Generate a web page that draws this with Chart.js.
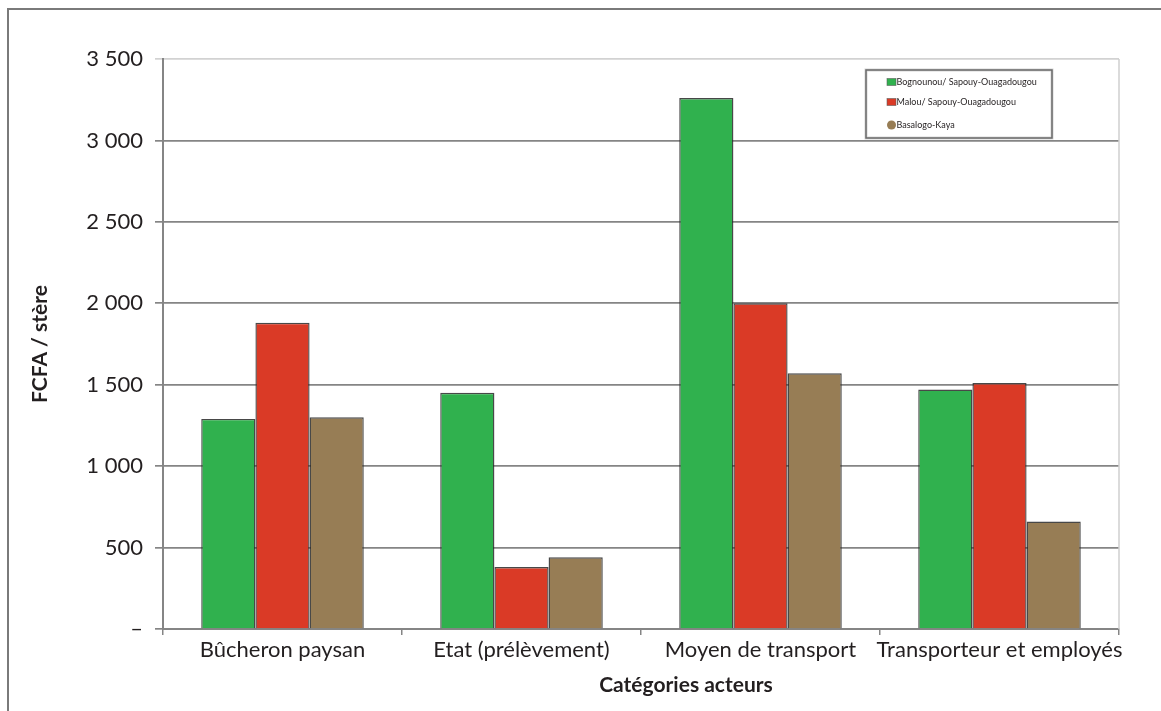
<!DOCTYPE html>
<html lang="fr">
<head>
<meta charset="utf-8">
<title>FCFA / stère par catégorie d'acteurs</title>
<script src="https://cdn.jsdelivr.net/npm/chart.js@4.4.1/dist/chart.umd.min.js"></script>
<style>
  html, body { margin: 0; padding: 0; background: #ffffff; }
  #wrap { width: 1161px; height: 711px; position: relative; }
  canvas { display: block; }
</style>
</head>
<body>
<div id="wrap"><canvas id="chart" width="1161" height="711"></canvas></div>
<script>
// Catégories d'acteurs (axe des abscisses)
const categories = ['Bûcheron paysan', 'Etat (prélèvement)', 'Moyen de transport', 'Transporteur et employés'];

// Montants en FCFA par stère, par filière
const seriesNames = ['Bognounou/ Sapouy-Ouagadougou', 'Malou/ Sapouy-Ouagadougou', 'Basalogo-Kaya'];
const bognounou = [1290, 1450, 3260, 1470];
const malou = [1880, 380, 2000, 1510];
const basalogo = [1300, 440, 1570, 660];

// Graduations de l'axe vertical
const yTickValues = [0, 500, 1000, 1500, 2000, 2500, 3000, 3500];
const yTickLabels = ['–', '500', '1 000', '1 500', '2 000', '2 500', '3 000', '3 500'];

const yAxisTitle = 'FCFA / stère';
const xAxisTitle = 'Catégories acteurs';

const seriesColors = ['#30b14e', '#da3a26', '#977d55'];
const markerShapes = ['rect', 'rect', 'circle'];

const FONT = 'Lato, "Open Sans", "Noto Sans", sans-serif';
const TEXT = '#231f20';
const AXIS = '#858585';

// Cadre de la figure (haut et gauche)
const framePlugin = {
  id: 'frame',
  beforeDraw(chart) {
    const ctx = chart.ctx;
    ctx.save();
    ctx.strokeStyle = '#7a7a7a';
    ctx.lineWidth = 2;
    ctx.beginPath();
    ctx.moveTo(8, chart.height);
    ctx.lineTo(8, 9);
    ctx.lineTo(chart.width, 9);
    ctx.stroke();
    ctx.restore();
  }
};

// Bordure claire à droite de la zone de tracé
const areaBorderPlugin = {
  id: 'areaBorder',
  beforeDatasetsDraw(chart) {
    const { ctx, chartArea } = chart;
    ctx.save();
    ctx.strokeStyle = '#cfcfcf';
    ctx.lineWidth = 1.5;
    ctx.beginPath();
    ctx.moveTo(chartArea.right, chartArea.top);
    ctx.lineTo(chartArea.right, chartArea.bottom);
    ctx.stroke();
    ctx.restore();
  }
};

// Titre de l'axe des abscisses
const xTitlePlugin = {
  id: 'xTitle',
  afterDraw(chart) {
    const { ctx, chartArea } = chart;
    ctx.save();
    ctx.font = 'bold 21px ' + FONT;
    ctx.fillStyle = TEXT;
    ctx.textAlign = 'center';
    ctx.textBaseline = 'alphabetic';
    ctx.fillText(xAxisTitle, (chartArea.left + chartArea.right) / 2 + 45, 692);
    ctx.restore();
  }
};

// Légende encadrée dans le coin supérieur droit
const boxLegendPlugin = {
  id: 'boxLegend',
  afterDraw(chart) {
    const ctx = chart.ctx;
    const box = { x: 866, y: 70, w: 186, h: 68 };
    const rows = [82, 102, 125];
    ctx.save();
    ctx.fillStyle = '#ffffff';
    ctx.fillRect(box.x, box.y, box.w, box.h);
    ctx.strokeStyle = '#d6d6d6';
    ctx.lineWidth = 3;
    ctx.strokeRect(box.x, box.y, box.w, box.h);
    ctx.strokeStyle = '#6a6a6a';
    ctx.lineWidth = 1.5;
    ctx.strokeRect(box.x, box.y, box.w, box.h);
    ctx.font = '9px ' + FONT;
    ctx.textBaseline = 'middle';
    ctx.textAlign = 'left';
    chart.data.datasets.forEach((ds, i) => {
      const cy = rows[i];
      ctx.fillStyle = ds.backgroundColor;
      if (markerShapes[i] === 'circle') {
        ctx.beginPath();
        ctx.arc(891.5, cy, 4.5, 0, Math.PI * 2);
        ctx.fill();
      } else {
        ctx.fillRect(887, cy - 3.5, 9, 7);
        ctx.strokeStyle = 'rgba(90,90,90,0.7)';
        ctx.lineWidth = 0.8;
        ctx.strokeRect(887, cy - 3.5, 9, 7);
      }
      ctx.fillStyle = TEXT;
      ctx.fillText(ds.label, 896.5, cy + 0.5);
    });
    ctx.restore();
  }
};

const datasets = [bognounou, malou, basalogo].map((values, i) => ({
  label: seriesNames[i],
  data: values,
  backgroundColor: seriesColors[i],
  borderColor: 'rgba(40,40,40,0.85)',
  borderWidth: 1.4,
  barPercentage: 1,
  categoryPercentage: 0.68
}));

new Chart(document.getElementById('chart'), {
  type: 'bar',
  data: { labels: categories, datasets },
  options: {
    responsive: false,
    animation: false,
    devicePixelRatio: 1,
    layout: { padding: { top: 59, right: 42, bottom: 0, left: 0 } },
    plugins: {
      legend: { display: false },
      tooltip: { enabled: false }
    },
    scales: {
      x: {
        grid: {
          display: true,
          drawOnChartArea: false,
          drawTicks: true,
          tickLength: 6,
          color: AXIS,
          lineWidth: 1.5
        },
        border: { display: true, color: AXIS, width: 2 },
        ticks: {
          color: TEXT,
          font: { family: FONT, size: 22 },
          padding: 2,
          maxRotation: 0,
          autoSkip: false
        },
        afterFit(scale) {
          scale.height = 82;
          scale.paddingLeft = 0;
          scale.paddingRight = 0;
        }
      },
      y: {
        min: 0,
        max: 3500,
        afterBuildTicks(scale) {
          scale.ticks = yTickValues.map(v => ({ value: v }));
        },
        grid: {
          color: ctx => (ctx.tick && ctx.tick.value === 3500 ? '#d2d2d2' : AXIS),
          lineWidth: 1.7,
          tickLength: 8
        },
        border: { display: true, color: AXIS, width: 2 },
        ticks: {
          color: TEXT,
          font: { family: FONT, size: 22 },
          padding: 12,
          callback: (value) => {
            const idx = yTickValues.indexOf(value);
            return idx >= 0 ? yTickLabels[idx] : '';
          }
        },
        title: {
          display: true,
          text: yAxisTitle,
          color: TEXT,
          font: { family: FONT, size: 21, weight: 'bold' },
          padding: { top: 28, bottom: 0 }
        },
        afterFit(scale) {
          scale.width = 163;
        }
      }
    }
  },
  plugins: [framePlugin, areaBorderPlugin, xTitlePlugin, boxLegendPlugin]
});
</script>
</body>
</html>
